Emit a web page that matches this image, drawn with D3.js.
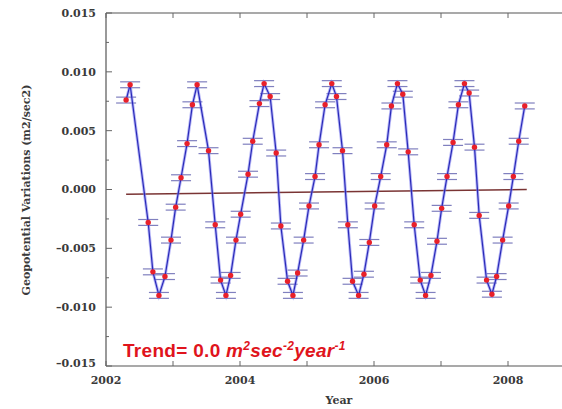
<!DOCTYPE html>
<html lang="en">
<head>
  <meta charset="UTF-8" />
  <title>Geopotential Variations</title>
  <script src="https://d3js.org/d3.v7.min.js"></script>
  <style>
    body { margin: 0; padding: 0; background: #fff; }
    svg { display: block; }
    .tick-label { font-family: 'DejaVu Serif', 'Liberation Serif', serif; font-weight: bold; font-size: 11px; fill: #3a3a3a; }
    .axis-title { font-family: 'DejaVu Serif', 'Liberation Serif', serif; font-weight: bold; font-size: 11px; fill: #3a3a3a; }
    .trend-text { font-family: 'Liberation Sans', Arial, sans-serif; font-weight: bold; font-size: 19px; letter-spacing: 0.3px; fill: #e0141c; }
  </style>
</head>
<body>
  <div id="chart"></div>

  <script>
    // decimal year of each sample
    const years = [
      2002.30, 2002.36, 2002.63, 2002.70, 2002.79, 2002.88, 2002.97, 2003.04, 2003.12, 2003.21,
      2003.29, 2003.36, 2003.53, 2003.63, 2003.71, 2003.79, 2003.86, 2003.94, 2004.01, 2004.12,
      2004.19, 2004.29, 2004.36, 2004.45, 2004.54, 2004.61, 2004.71, 2004.79, 2004.86, 2004.95,
      2005.03, 2005.12, 2005.18, 2005.27, 2005.37, 2005.44, 2005.53, 2005.61, 2005.68, 2005.77,
      2005.85, 2005.93, 2006.01, 2006.10, 2006.19, 2006.26, 2006.35, 2006.43, 2006.51, 2006.60,
      2006.69, 2006.77, 2006.85, 2006.94, 2007.01, 2007.09, 2007.18, 2007.26, 2007.35, 2007.42,
      2007.50, 2007.57, 2007.68, 2007.76, 2007.83, 2007.92, 2008.01, 2008.08, 2008.16, 2008.25
    ];
    // geopotential variation (m2/sec2)
    const values = [
      0.0076, 0.0089, -0.0028, -0.0070, -0.0090, -0.0074, -0.0043, -0.0015, 0.0010, 0.0039,
      0.0072, 0.0089, 0.0033, -0.0030, -0.0077, -0.0090, -0.0073, -0.0043, -0.0021, 0.0013,
      0.0041, 0.0073, 0.0090, 0.0079, 0.0031, -0.0031, -0.0078, -0.0090, -0.0071, -0.0043,
      -0.0014, 0.0011, 0.0038, 0.0072, 0.0090, 0.0079, 0.0033, -0.0030, -0.0078, -0.0090,
      -0.0072, -0.0045, -0.0014, 0.0011, 0.0038, 0.0071, 0.0090, 0.0081, 0.0032, -0.0030,
      -0.0077, -0.0090, -0.0073, -0.0044, -0.0016, 0.0011, 0.0040, 0.0072, 0.0090, 0.0082,
      0.0036, -0.0022, -0.0077, -0.0089, -0.0074, -0.0043, -0.0014, 0.0011, 0.0041, 0.0071
    ];
    const errBar = 0.00025;

    // fitted trend line end points
    const trendYears = [2002.30, 2008.28];
    const trendValues = [-0.0004, 0.0000];

    const yTicks = [0.015, 0.010, 0.005, 0.000, -0.005, -0.010, -0.015];
    const yMinorTicks = [0.0125, 0.0075, 0.0025, -0.0025, -0.0075, -0.0125];
    const xTicks = [2002, 2003, 2004, 2005, 2006, 2007, 2008, 2009];
    const xTickLabels = [2002, 2004, 2006, 2008];

    const width = 562, height = 409;
    const svg = d3.select("#chart").append("svg")
      .attr("width", width)
      .attr("height", height);

    const x = d3.scaleLinear().domain([2002, 2009]).range([106, 575]);
    const y = d3.scaleLinear().domain([-0.015, 0.015]).range([366, 13]);

    const frame = svg.append("g").attr("stroke", "#555").attr("stroke-width", 1.2);

    // frame lines (right edge falls outside the picture)
    frame.append("line").attr("x1", x(2002)).attr("x2", x(2009)).attr("y1", y(0.015)).attr("y2", y(0.015));
    frame.append("line").attr("x1", x(2002)).attr("x2", x(2009)).attr("y1", y(-0.015)).attr("y2", y(-0.015));
    frame.append("line").attr("x1", x(2002)).attr("x2", x(2002)).attr("y1", y(0.015)).attr("y2", y(-0.015));

    // inward ticks
    const tk = svg.append("g").attr("stroke", "#666").attr("stroke-width", 1);
    tk.selectAll(".ymaj").data(yTicks).enter().append("line")
      .attr("x1", x(2002)).attr("x2", x(2002) + 6)
      .attr("y1", d => y(d)).attr("y2", d => y(d));
    tk.selectAll(".ymin").data(yMinorTicks).enter().append("line")
      .attr("x1", x(2002)).attr("x2", x(2002) + 3)
      .attr("y1", d => y(d)).attr("y2", d => y(d));
    tk.selectAll(".xtop").data(xTicks).enter().append("line")
      .attr("x1", d => x(d)).attr("x2", d => x(d))
      .attr("y1", y(0.015)).attr("y2", y(0.015) + 5);
    tk.selectAll(".xbot").data(xTicks).enter().append("line")
      .attr("x1", d => x(d)).attr("x2", d => x(d))
      .attr("y1", y(-0.015)).attr("y2", y(-0.015) - 5);

    // tick labels
    svg.selectAll(".ylab").data(yTicks).enter().append("text")
      .attr("class", "tick-label")
      .attr("x", 96)
      .attr("y", d => y(d) + (d === -0.015 ? -3 : 0))
      .attr("dy", "0.35em")
      .attr("text-anchor", "end")
      .text(d => d3.format(".3f")(d).replace("-", "\u2013").replace("\u2212", "\u2013"));

    svg.selectAll(".xlab").data(xTickLabels).enter().append("text")
      .attr("class", "tick-label")
      .attr("x", d => x(d))
      .attr("y", 384)
      .attr("text-anchor", "middle")
      .text(d => d);

    // axis titles
    svg.append("text")
      .attr("class", "axis-title")
      .attr("transform", "translate(30,190) rotate(-90)")
      .attr("text-anchor", "middle")
      .text("Geopotential Variations (m2/sec2)");

    svg.append("text")
      .attr("class", "axis-title")
      .attr("x", 339)
      .attr("y", 404)
      .attr("text-anchor", "middle")
      .text("Year");

    const pts = years.map((t, i) => ({ t: t, v: values[i] }));

    // trend line
    svg.append("line")
      .attr("x1", x(trendYears[0])).attr("y1", y(trendValues[0]))
      .attr("x2", x(trendYears[1])).attr("y2", y(trendValues[1]))
      .attr("stroke", "#7a3434")
      .attr("stroke-width", 1.6);

    // error bar caps
    const caps = svg.append("g").attr("stroke", "#6a6ab4").attr("stroke-width", 1.2).attr("opacity", 0.85);
    caps.selectAll(".cu").data(pts).enter().append("line")
      .attr("x1", d => x(d.t) - 10).attr("x2", d => x(d.t) + 10)
      .attr("y1", d => y(d.v + errBar)).attr("y2", d => y(d.v + errBar));
    caps.selectAll(".cl").data(pts).enter().append("line")
      .attr("x1", d => x(d.t) - 10).attr("x2", d => x(d.t) + 10)
      .attr("y1", d => y(d.v - errBar)).attr("y2", d => y(d.v - errBar));

    // series line
    const line = d3.line().x(d => x(d.t)).y(d => y(d.v));
    svg.append("path").datum(pts)
      .attr("d", line)
      .attr("fill", "none")
      .attr("stroke", "#7c7cf0")
      .attr("stroke-width", 3)
      .attr("opacity", 0.55);
    svg.append("path").datum(pts)
      .attr("d", line)
      .attr("fill", "none")
      .attr("stroke", "#2a2ab8")
      .attr("stroke-width", 1.2);

    // markers
    svg.selectAll(".pt").data(pts).enter().append("circle")
      .attr("cx", d => x(d.t))
      .attr("cy", d => y(d.v))
      .attr("r", 2.7)
      .attr("fill", "#e8202a");

    // trend annotation
    const tt = svg.append("text").attr("class", "trend-text").attr("x", 123).attr("y", 357);
    tt.append("tspan").text("Trend= 0.0 ");
    const it = tt.append("tspan").attr("font-style", "italic");
    it.append("tspan").text("m");
    it.append("tspan").attr("font-size", "12px").attr("dy", -7).text("2");
    it.append("tspan").attr("dy", 7).text("sec");
    it.append("tspan").attr("font-size", "12px").attr("dy", -7).text("-2");
    it.append("tspan").attr("dy", 7).text("year");
    it.append("tspan").attr("font-size", "12px").attr("dy", -7).text("-1");
  </script>
</body>
</html>
